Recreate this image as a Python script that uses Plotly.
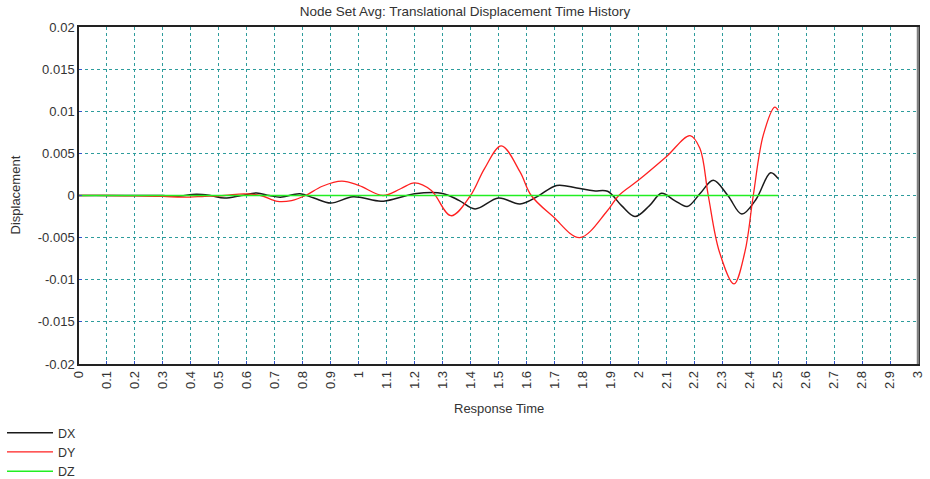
import plotly.graph_objects as go

# ---- data ----
dx_t = [0, 0.1, 0.2, 0.3, 0.35, 0.42, 0.47, 0.52, 0.58, 0.635, 0.68, 0.72, 0.79, 0.84, 0.9,
        0.98, 1.08, 1.14, 1.2, 1.3, 1.36, 1.416, 1.5, 1.577, 1.64, 1.708, 1.78, 1.84, 1.89,
        1.94, 1.988, 2.04, 2.083, 2.13, 2.175, 2.22, 2.268, 2.32, 2.37, 2.42, 2.473, 2.5]
dx_v = [0, 0, 0, 0, -0.0001, 0.00015, 0, -0.0003, 0, 0.0003, 0, -0.0002, 0.0002, -0.0003, -0.0009,
        -0.00015, -0.00068, -0.0003, 0.0002, 0.00025, -0.0006, -0.0016, -0.0003, -0.001, -0.0001, 0.0012,
        0.0009, 0.00055, 0.0005, -0.0012, -0.0025, -0.0012, 0.00026, -0.0006, -0.0013, 0.0002, 0.0018,
        0.0, -0.0022, -0.0005, 0.0027, 0.0020]

dy_t = [0, 0.1, 0.2, 0.3, 0.37, 0.45, 0.52, 0.59, 0.65, 0.71, 0.76, 0.81, 0.87, 0.94, 1.0,
        1.087, 1.15, 1.2, 1.26, 1.33, 1.40, 1.45, 1.51, 1.577, 1.617, 1.695, 1.79, 1.887, 1.93,
        2.0, 2.1, 2.185, 2.22, 2.25, 2.29, 2.342, 2.381, 2.411, 2.447, 2.488, 2.5]
dy_v = [0, 0, -0.00005, -0.0001, -0.0002, -0.0001, 0, 0.0002, 0, -0.0007, -0.0006, 0, 0.0011, 0.0017, 0.0012,
        0.0, 0.0008, 0.0015, 0.0006, -0.0024, 0, 0.0032, 0.0059, 0.0028, 0, -0.0025, -0.005, -0.0019, 0,
        0.0018, 0.0046, 0.0071, 0.0056, 0, -0.0067, -0.0105, -0.0067, 0, 0.0072, 0.0105, 0.0101]

dz_t = [0, 0.5, 1.0, 1.5, 2.0, 2.5]
dz_v = [0, 0, 0, 0, 0, 0]

x_ticks = [round(i * 0.1, 1) for i in range(31)]
x_ticktext = ["0", "0.1", "0.2", "0.3", "0.4", "0.5", "0.6", "0.7", "0.8", "0.9", "1",
              "1.1", "1.2", "1.3", "1.4", "1.5", "1.6", "1.7", "1.8", "1.9", "2",
              "2.1", "2.2", "2.3", "2.4", "2.5", "2.6", "2.7", "2.8", "2.9", "3"]
y_ticks = [-0.02, -0.015, -0.01, -0.005, 0, 0.005, 0.01, 0.015, 0.02]
y_ticktext = ["-0.02", "-0.015", "-0.01", "-0.005", "0", "0.005", "0.01", "0.015", "0.02"]

FONT = "Liberation Sans, Arial, sans-serif"
GRID = "#2e9c9c"
TXT = "#333333"

W, H = 930, 479
L, R, T, B = 79, 12, 27, 115
PW, PH = W - L - R, H - T - B

fig = go.Figure()
fig.add_trace(go.Scatter(x=dx_t, y=dx_v, name="DX", mode="lines",
                         line=dict(color="#1a1a1a", width=1.5, shape="spline", smoothing=1.0)))
fig.add_trace(go.Scatter(x=dy_t, y=dy_v, name="DY", mode="lines",
                         line=dict(color="#ff2020", width=1.3, shape="spline", smoothing=1.0)))
fig.add_trace(go.Scatter(x=dz_t, y=dz_v, name="DZ", mode="lines",
                         line=dict(color="#22ee22", width=1.5)))

fig.update_layout(
    width=W, height=H,
    margin=dict(l=L, r=R, t=T, b=B, autoexpand=False),
    paper_bgcolor="white", plot_bgcolor="white",
    font=dict(family=FONT, size=12, color=TXT),
    title=dict(text="Node Set Avg: Translational Displacement Time History",
               x=465 / W, xref="container", xanchor="center",
               y=1 - 11.5 / H, yref="container", yanchor="middle",
               font=dict(family=FONT, size=13.5, color=TXT)),
    showlegend=True,
    hovermode=False,
    legend=dict(x=(2 - L) / PW, y=-54 / PH, xanchor="left", yanchor="top",
                orientation="v", font=dict(family=FONT, size=12.5, color=TXT),
                bgcolor="rgba(0,0,0,0)", tracegroupgap=0, itemwidth=46),
)

fig.update_xaxes(range=[0, 3], tickmode="array", tickvals=x_ticks, ticktext=x_ticktext,
                 tickangle=-90, showgrid=True, gridcolor=GRID, griddash="3px,3px", gridwidth=1,
                 zeroline=False, showline=True, linecolor="#222222", linewidth=1.5, mirror=True,
                 ticks="inside", ticklen=3, tickcolor="#3355cc", automargin=False,
                 tickfont=dict(family=FONT, size=13, color=TXT))
fig.update_yaxes(range=[-0.02, 0.02], tickmode="array", tickvals=y_ticks, ticktext=y_ticktext,
                 showgrid=True, gridcolor=GRID, griddash="3px,3px", gridwidth=1,
                 zeroline=False, showline=True, linecolor="#222222", linewidth=1.5, mirror=True,
                 ticks="inside", ticklen=3, tickcolor="#3355cc", automargin=False,
                 tickfont=dict(family=FONT, size=13, color=TXT))

# right border drawn gray as in the reference
fig.add_shape(type="line", xref="paper", yref="paper", x0=1, x1=1, y0=0, y1=1,
              line=dict(color="#808080", width=2.5))

fig.add_annotation(text="Response Time", xref="paper", yref="paper",
                   x=0.5, y=-44 / PH, xanchor="center", yanchor="middle",
                   showarrow=False, font=dict(family=FONT, size=13, color=TXT))
fig.add_annotation(text="Displacement", xref="paper", yref="paper",
                   x=(15 - L) / PW, y=0.5, xanchor="center", yanchor="middle", textangle=-90,
                   showarrow=False, font=dict(family=FONT, size=13, color=TXT))

fig.write_html("out.html", config={"displayModeBar": False},
               post_script="document.body.style.margin='0';document.body.style.overflow='hidden';")
